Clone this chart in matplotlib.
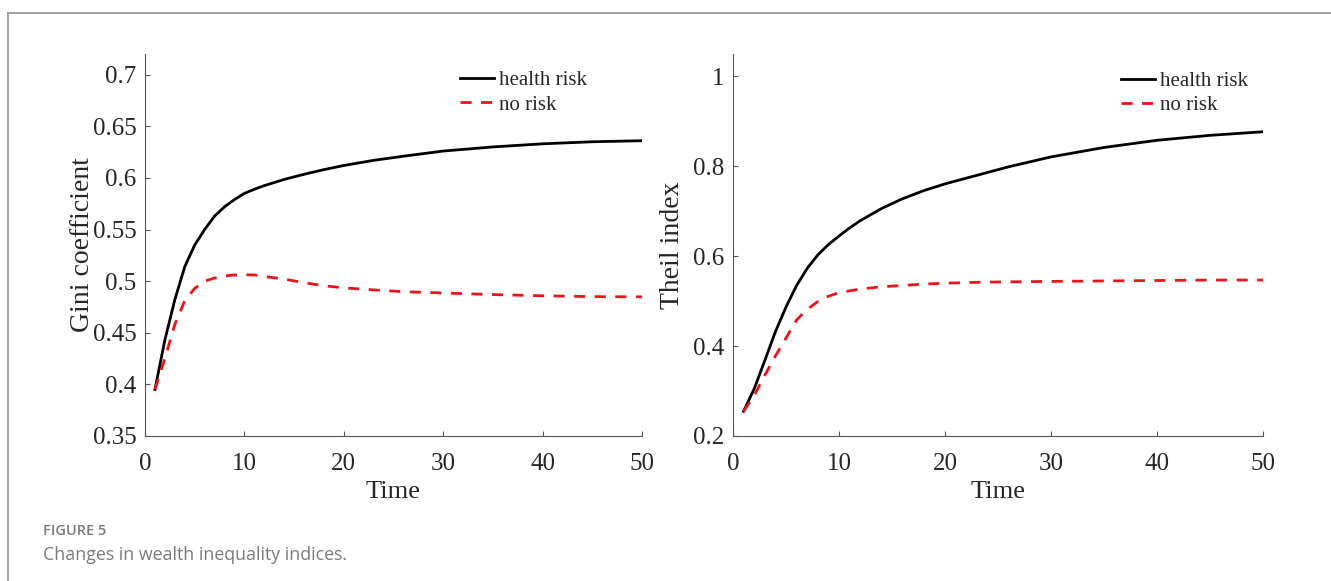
import matplotlib
matplotlib.use("Agg")
import matplotlib.pyplot as plt
from matplotlib.lines import Line2D

# ---------------- data ----------------
time = [1, 2, 3, 4, 5, 6, 7, 8, 9, 10, 11, 12, 14, 16, 18, 20, 23, 26, 30, 35, 40, 45, 50]

gini_health = [0.395, 0.443, 0.482, 0.514, 0.535, 0.550, 0.563, 0.572, 0.579, 0.585,
               0.589, 0.5925, 0.5985, 0.6035, 0.608, 0.612, 0.617, 0.621, 0.626, 0.630,
               0.633, 0.635, 0.636]
gini_norisk = [0.395, 0.425, 0.458, 0.481, 0.493, 0.500, 0.503, 0.505, 0.506, 0.5062,
               0.506, 0.5045, 0.502, 0.4985, 0.4955, 0.4935, 0.4915, 0.4898, 0.4885, 0.487,
               0.4858, 0.485, 0.4848]

theil_health = [0.255, 0.305, 0.368, 0.432, 0.487, 0.535, 0.573, 0.603, 0.626, 0.645,
                0.663, 0.679, 0.706, 0.728, 0.746, 0.761, 0.780, 0.799, 0.821, 0.842,
                0.858, 0.869, 0.877]
theil_norisk = [0.255, 0.290, 0.335, 0.378, 0.418, 0.458, 0.482, 0.499, 0.511, 0.519,
                0.523, 0.527, 0.532, 0.535, 0.538, 0.540, 0.542, 0.543, 0.544, 0.545,
                0.546, 0.547, 0.547]

series_labels = ["health risk", "no risk"]
x_label = "Time"
y_labels = ["Gini coefficient", "Theil index"]
x_ticks = [0, 10, 20, 30, 40, 50]
gini_ticks = [0.35, 0.4, 0.45, 0.5, 0.55, 0.6, 0.65, 0.7]
gini_ticklabels = ["0.35", "0.4", "0.45", "0.5", "0.55", "0.6", "0.65", "0.7"]
theil_ticks = [0.2, 0.4, 0.6, 0.8, 1.0]
theil_ticklabels = ["0.2", "0.4", "0.6", "0.8", "1"]
caption_title = "FIGURE 5"
caption_text = "Changes in wealth inequality indices."

# ---------------- figure ----------------
W, H = 1331, 581
fig = plt.figure(figsize=(W / 100, H / 100), dpi=100)
serif = ["Liberation Serif", "DejaVu Serif"]
text_col = "#262626"
spine_col = "#555555"


def make_axes(rect, y1, y2, ylim, yticks, yticklabels, ylabel, ylabelpad, leg_anchor):
    ax = fig.add_axes(rect)
    ax.plot(time, y1, color="black", lw=2.0, label=series_labels[0])
    ax.plot(time, y2, color="#e8141b", lw=2.0, dashes=(4, 3.4), label=series_labels[1])
    ax.set_xlim(0, 50)
    ax.set_ylim(*ylim)
    ax.set_xticks(x_ticks)
    ax.set_xticklabels([str(v) for v in x_ticks])
    ax.set_yticks(yticks)
    ax.set_yticklabels(yticklabels)
    for s in ("top", "right"):
        ax.spines[s].set_visible(False)
    for s in ("left", "bottom"):
        ax.spines[s].set_color(spine_col)
        ax.spines[s].set_linewidth(0.8)
    ax.tick_params(direction="in", length=3.5, width=0.8, color=spine_col,
                   labelsize=18, labelcolor=text_col)
    ax.tick_params(axis="y", pad=6)
    ax.tick_params(axis="x", pad=12.5)
    for lab in ax.get_xticklabels() + ax.get_yticklabels():
        lab.set_family(serif)
    ax.set_xlabel(x_label, fontsize=19, family=serif, color=text_col, labelpad=4)
    ax.set_ylabel(ylabel, fontsize=20, family=serif, color=text_col, labelpad=ylabelpad)
    leg = ax.legend(loc="upper left", bbox_to_anchor=leg_anchor, frameon=False,
                    prop={"family": serif, "size": 15}, handlelength=1.65,
                    handletextpad=0.2, borderpad=0, borderaxespad=0,
                    labelspacing=0.22)
    for t in leg.get_texts():
        t.set_color(text_col)
    return ax


ax1 = make_axes([145 / W, 1 - 436 / H, 497 / W, 382 / H], gini_health, gini_norisk,
                (0.35, 0.72), gini_ticks, gini_ticklabels, y_labels[0], -1.5,
                (0.634, 0.956))
ax2 = make_axes([733 / W, 1 - 436 / H, 530 / W, 382 / H], theil_health, theil_norisk,
                (0.2, 1.05), theil_ticks, theil_ticklabels, y_labels[1], 6,
                (0.732, 0.954))

# frame lines (top and left)
frame_col = "#9a9a9a"
fig.add_artist(Line2D([8 / W, 1.0], [1 - 13 / H, 1 - 13 / H], transform=fig.transFigure,
                      color=frame_col, lw=1.3))
fig.add_artist(Line2D([8 / W, 8 / W], [0.0, 1 - 13 / H], transform=fig.transFigure,
                      color=frame_col, lw=1.3))

# caption
fig.text(43 / W, 1 - 535 / H, caption_title, fontsize=10.5, fontweight="semibold",
         family=["Open Sans", "DejaVu Sans"], color="#7a7a7a", va="baseline")
fig.text(43 / W, 1 - 560 / H, caption_text, fontsize=12.8,
         family=["Open Sans", "DejaVu Sans"], color="#7a7a7a", va="baseline")

fig.savefig("out.png", dpi=100)
